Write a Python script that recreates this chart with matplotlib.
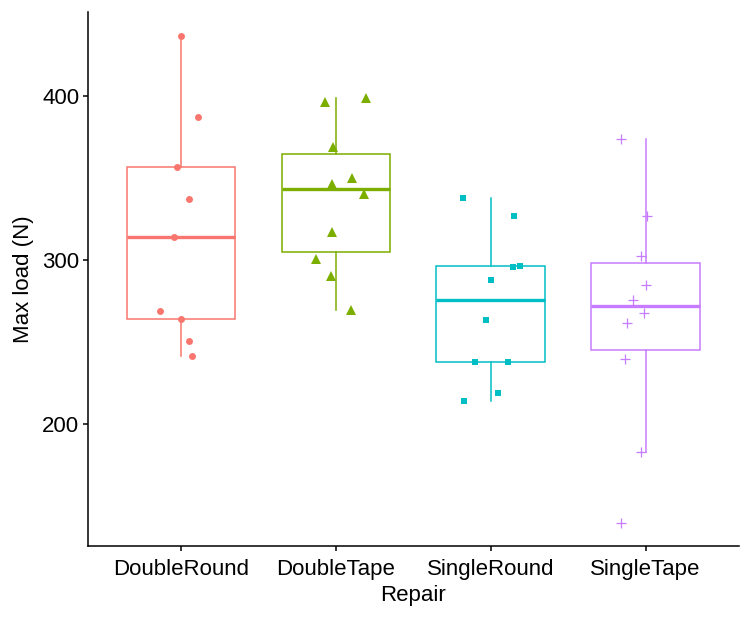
import matplotlib
matplotlib.use("Agg")
import matplotlib.pyplot as plt
import numpy as np

plt.rcParams['font.family'] = ['Liberation Sans', 'DejaVu Sans']

categories = ["DoubleRound", "DoubleTape", "SingleRound", "SingleTape"]
colors = ["#F8766D", "#7CAE00", "#00BFC4", "#C77CFF"]

double_round = [437.1, 387.3, 357.0, 337.3, 314.1, 269.4, 264.5, 250.9, 241.6]
double_tape = [396.8, 398.9, 369.4, 350.5, 346.6, 340.7, 317.4, 301.1, 290.7, 269.8]
single_round = [338.3, 327.3, 295.9, 296.6, 288.1, 263.7, 238.3, 238.3, 219.0, 214.5]
single_tape = [374.1, 327.3, 302.7, 285.1, 275.7, 268.2, 261.9, 240.1, 183.4, 140.1]

# horizontal jitter offsets (category units)
jit_double_round = [0.003, 0.113, -0.023, 0.055, -0.044, -0.134, 0.001, 0.055, 0.070]
jit_double_tape = [-0.068, 0.196, -0.015, 0.104, -0.023, 0.179, -0.023, -0.128, -0.032, 0.095]
jit_single_round = [-0.180, 0.153, 0.143, 0.192, 0.003, -0.032, -0.101, 0.110, 0.050, -0.170]
jit_single_tape = [-0.159, 0.010, -0.030, 0.002, -0.084, -0.013, -0.123, -0.135, -0.030, -0.161]

yticks = [200, 300, 400]

values = [double_round, double_tape, single_round, single_tape]
jitters = [jit_double_round, jit_double_tape, jit_single_round, jit_single_tape]
markers = ["o", "^", "s", "+"]
msizes = [5.0, 7.0, 4.8, 7.5]

fig = plt.figure(figsize=(7.5, 6.18), dpi=100)
ax = fig.add_axes([0.1173, 0.1165, 0.8674, 0.8641])

positions = np.arange(1, len(categories) + 1)
for i, (vals, col) in enumerate(zip(values, colors)):
    ax.boxplot([vals], positions=[positions[i]], widths=0.7, whis=1.5,
               showfliers=False, showcaps=False, patch_artist=True,
               boxprops=dict(facecolor="white", edgecolor=col, linewidth=1.1),
               whiskerprops=dict(color=col, linewidth=1.1),
               medianprops=dict(color=col, linewidth=2.4, solid_capstyle='butt'),
               zorder=2)

for i, (vals, jit, col, mk, ms) in enumerate(zip(values, jitters, colors, markers, msizes)):
    xs = positions[i] + np.array(jit)
    if mk == "+":
        ax.plot(xs, vals, ls="none", marker=mk, color=col, markersize=ms,
                markeredgewidth=0.9, zorder=3)
    else:
        ax.plot(xs, vals, ls="none", marker=mk, color=col, markersize=ms,
                markeredgewidth=0, zorder=3)

ax.set_xlim(0.4, 4.6)
ax.set_ylim(125.9, 451.5)
ax.set_xticks(positions)
ax.set_xticklabels(categories)
ax.set_yticks(yticks)
ax.set_yticklabels([str(t) for t in yticks])

for s in ["top", "right"]:
    ax.spines[s].set_visible(False)
for s in ["left", "bottom"]:
    ax.spines[s].set_linewidth(1.1)
    ax.spines[s].set_color("black")

ax.tick_params(axis="both", length=3.8, width=1.1, color="black",
               labelsize=16, labelcolor="black")
ax.tick_params(axis="y", pad=2.5)
ax.tick_params(axis="x", pad=5.5)

ax.set_xlabel("Repair", fontsize=16, labelpad=4)
ax.set_ylabel("Max load (N)", fontsize=16, labelpad=6)

fig.savefig("out.png", dpi=100)
